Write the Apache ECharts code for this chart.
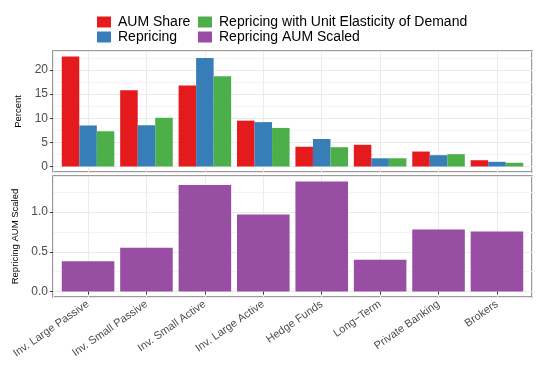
<!DOCTYPE html>
<html><head><meta charset="utf-8">
<script src="https://cdn.jsdelivr.net/npm/echarts@6/dist/echarts.min.js"></script>
<style>html,body{margin:0;padding:0;background:#fff;}#c{width:550px;height:366px;}</style>
</head><body><div id="c"></div>
<script>
const categories = ['Inv. Large Passive','Inv. Small Passive','Inv. Small Active','Inv. Large Active','Hedge Funds','Long\u2212Term','Private Banking','Brokers'];
const aumShare = [22.8, 15.8, 16.8, 9.5, 4.1, 4.5, 3.1, 1.3];
const repricing = [8.5, 8.55, 22.5, 9.2, 5.7, 1.7, 2.35, 0.97];
const unitElastic = [7.3, 10.1, 18.7, 8.0, 4.0, 1.7, 2.55, 0.77];
const aumScaled = [0.38, 0.55, 1.34, 0.97, 1.384, 0.40, 0.78, 0.755];
const topTicks = [0, 5, 10, 15, 20];
const bottomTicks = [0.0, 0.5, 1.0];

const FONT = 'Liberation Sans, Arial, sans-serif';
const pts = arr => arr.map((v, i) => [i + 1, v]);
const topMax = 22.8 * 1.05, topMin = -22.8 * 0.05;
const botMax = 1.384 * 1.05, botMin = -1.384 * 0.05;

function xAxis(grid, showLabels) {
  return {
    type: 'value', gridIndex: grid, position: 'bottom', min: 0.4, max: 8.6, minInterval: 1, maxInterval: 1,
    axisLine: {show: false},
    axisTick: {show: showLabels, length: 3, lineStyle: {color: '#333'}},
    splitLine: {show: true, lineStyle: {color: '#EBEBEB', width: 1}},
    axisLabel: {
      show: showLabels, rotate: 35, fontSize: 11, color: '#4D4D4D', fontFamily: FONT, margin: 6,
      showMinLabel: false, showMaxLabel: false,
      formatter: v => (Math.abs(v - Math.round(v)) < 1e-6 && v >= 1 && v <= 8) ? categories[Math.round(v) - 1] : ''
    }
  };
}
function minorY(grid, min, max, step) {
  return {
    type: 'value', gridIndex: grid, position: 'left', min: min, max: max, minInterval: step, maxInterval: step,
    axisLine: {show: false}, axisTick: {show: false}, axisLabel: {show: false},
    splitLine: {show: true, lineStyle: {color: '#F3F3F3', width: 1}}
  };
}
function majorY(grid, min, max, step, ticks, name, digits) {
  return {
    type: 'value', gridIndex: grid, position: 'left', min: min, max: max, minInterval: step, maxInterval: step,
    name: name, nameLocation: 'middle', nameGap: 27,
    nameTextStyle: {fontSize: 9.5, color: '#000', fontFamily: FONT},
    axisLine: {show: false},
    axisTick: {show: true, length: 3, lineStyle: {color: '#333'}},
    splitLine: {show: true, lineStyle: {color: '#EBEBEB', width: 1}},
    axisLabel: {
      fontSize: 12, color: '#4D4D4D', fontFamily: FONT, margin: 5,
      showMinLabel: false, showMaxLabel: false,
      formatter: v => { const t = ticks.find(k => Math.abs(k - v) < 1e-6); return t === undefined ? '' : t.toFixed(digits); }
    }
  };
}

const legendText = {fontSize: 14, color: '#000', fontFamily: FONT, lineHeight: 11, padding: [0, 0, 0, 2]};
const chart = echarts.init(document.getElementById('c'));
chart.setOption({
  animation: false,
  backgroundColor: '#fff',
  textStyle: {fontFamily: FONT},
  legend: [
    {data: ['AUM Share', 'Repricing'], orient: 'vertical', left: 97, top: 15, padding: 0, itemWidth: 14, itemHeight: 11, itemGap: 1,
     icon: 'rect', textStyle: legendText},
    {data: ['Repricing with Unit Elasticity of Demand', 'Repricing AUM Scaled'], orient: 'vertical', left: 198, top: 15, padding: 0,
     itemWidth: 14, itemHeight: 11, itemGap: 1, icon: 'rect', textStyle: legendText}
  ],
  grid: [
    {left: 53, right: 18, top: 51, height: 121, show: true, borderColor: '#7A7A7A', borderWidth: 1.5, backgroundColor: 'transparent', outerBoundsMode: 'none', containLabel: false},
    {left: 53, right: 18, top: 176, height: 121, show: true, borderColor: '#7A7A7A', borderWidth: 1.5, backgroundColor: 'transparent', outerBoundsMode: 'none', containLabel: false}
  ],
  xAxis: [xAxis(0, false), xAxis(1, true)],
  yAxis: [
    minorY(0, topMin, topMax, 2.5),
    majorY(0, topMin, topMax, 5, topTicks, 'Percent', 0),
    minorY(1, botMin, botMax, 0.25),
    majorY(1, botMin, botMax, 0.5, bottomTicks, 'Repricing AUM Scaled', 1)
  ],
  series: [
    {name: 'AUM Share', type: 'bar', xAxisIndex: 0, yAxisIndex: 1, data: pts(aumShare), barGap: '0%', barCategoryGap: '10%', itemStyle: {color: '#E41A1C'}},
    {name: 'Repricing', type: 'bar', xAxisIndex: 0, yAxisIndex: 1, data: pts(repricing), barGap: '0%', barCategoryGap: '10%', itemStyle: {color: '#377EB8'}},
    {name: 'Repricing with Unit Elasticity of Demand', type: 'bar', xAxisIndex: 0, yAxisIndex: 1, data: pts(unitElastic), barGap: '0%', barCategoryGap: '10%', itemStyle: {color: '#4DAF4A'}},
    {name: 'Repricing AUM Scaled', type: 'bar', xAxisIndex: 1, yAxisIndex: 3, data: pts(aumScaled), barCategoryGap: '10%', itemStyle: {color: '#984EA3'}}
  ]
});
</script></body></html>
